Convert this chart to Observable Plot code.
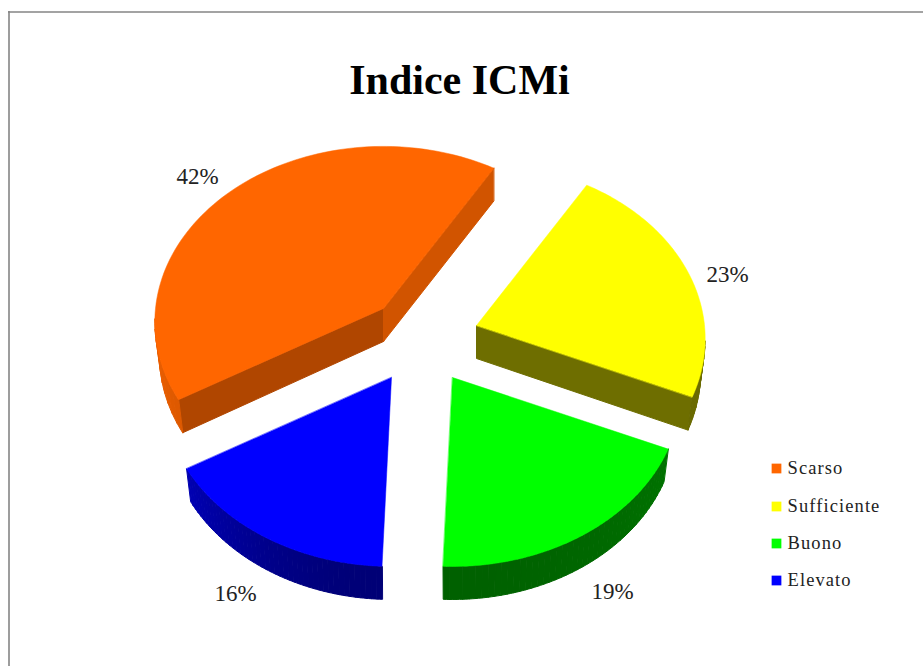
<!DOCTYPE html>
<html>
<head>
<meta charset="utf-8">
<script src="https://cdn.jsdelivr.net/npm/d3@7"></script>
<script src="https://cdn.jsdelivr.net/npm/@observablehq/plot@0.6"></script>
<style>html,body{margin:0;padding:0;background:#fff}svg{display:block}</style>
</head>
<body>
<div id="chart"></div>
<script>
// data
const categories = ["Scarso", "Sufficiente", "Buono", "Elevato"];
const percent = [42.0, 22.9, 19.1, 16.0];
const colors = ["#FF6600", "#FFFF00", "#00FF00", "#0000FF"];
const title = "Indice ICMi";

// layout of the exploded 3D pie (chart units)
const center = [424, 339];
const explode = [[-41, -31], [52, -14], [28, 38], [-33, 38]];
const labelAt = [[197, 176], [727, 274], [612, 591], [235, 593]];
const legendY = [468, 506, 543, 580];
const radiusX = 228, tiltY = 174.5, persp = 0.0765, depth = 33, bottomShrink = 0.98, firstAngle = 31;

// shading of the side walls, as fractions of each slice's colour
const arcFront = [0.70, 0.40, 0.38, 0.46];
const arcSide = [0.92, 0.42, 0.46, 0.78];
const radialShade = [[0.69, 0.82], [null, 0.43], [null, null], [null, null]]; // [start edge, end edge]

// yellow is drawn first from firstAngle clockwise; orange closes the circle
const order = [1, 2, 3, 0];
const spans = [];
{
  let a = firstAngle;
  for (const i of order) {
    const da = percent[i] / d3.sum(percent) * 360;
    spans[i] = [a, a + da];
    a += da;
  }
}
function rimPoint(deg, ox, oy) {
  const t = deg * Math.PI / 180;
  const front = -Math.cos(t);
  const s = 1 / (1 - persp * front);
  return [ox + Math.sin(t) * radiusX * s, oy + front * tiltY * s];
}
function shadeOf(rgb, f) {
  const c = d3.rgb(rgb);
  return d3.rgb(c.r * f, c.g * f, c.b * f).formatHex();
}
const tops = [], walls = [];
categories.forEach((name, i) => {
  const ox = center[0] + explode[i][0], oy = center[1] + explode[i][1];
  const [a0, a1] = spans[i];
  const steps = 90;
  const angles = d3.range(steps + 1).map(k => a0 + (a1 - a0) * k / steps);
  const rim = angles.map(a => rimPoint(a, ox, oy));
  [[ox, oy], ...rim].forEach(p => tops.push({id: name, x: p[0], y: p[1], c: colors[i]}));

  // the lower rim sits a little nearer the axis on the near half of the pie
  const low = p => [ox + (p[0] - ox) * (p[1] > oy ? bottomShrink : 1), p[1] + depth];
  const addWall = (id, pts, c) => {
    const strip = [...pts, ...pts.map(low).reverse()];
    strip.forEach(v => walls.push({id, x: v[0], y: v[1], c}));
  };
  // radial walls
  const [rs, re] = radialShade[i];
  if (rs != null) addWall(name + "-rs", [[ox, oy], rim[0]], shadeOf(colors[i], rs));
  if (re != null) addWall(name + "-re", [rim[steps], [ox, oy]], shadeOf(colors[i], re));
  // outer wall: bands of rim segments that face the viewer
  const band = 2;
  for (let k = 0; k < steps; k += band) {
    const seg = rim.slice(k, Math.min(k + band, steps) + 1);
    if (seg[0][0] <= seg[seg.length - 1][0]) continue;           // back side of the rim
    const mid = angles[k + 1] * Math.PI / 180;
    const w = Math.sin(mid) ** 2;
    const c = shadeOf(colors[i], arcFront[i] + (arcSide[i] - arcFront[i]) * w);
    addWall(name + "-a" + k, seg, c);
  }
});
const legend = categories.map((name, i) => ({name, c: colors[i], y: legendY[i]}));
const labels = categories.map((name, i) => ({t: Math.round(percent[i]) + "%", x: labelAt[i][0], y: labelAt[i][1]}));

const serif = "'Liberation Serif', serif";
const plot = Plot.plot({
  width: 923, height: 666, margin: 0,
  x: {domain: [0, 923], axis: null},
  y: {domain: [666, 0], axis: null},
  style: {background: "#fff"},
  marks: [
    Plot.ruleX([8.5], {y1: 11, y2: 666, stroke: "#858585", strokeWidth: 1.6}),
    Plot.ruleY([11.5], {x1: 8, x2: 923, stroke: "#858585", strokeWidth: 1.6}),
    Plot.line(walls, {x: "x", y: "y", z: "id", fill: "c", stroke: "c", strokeWidth: 1, curve: "linear-closed"}),
    Plot.line(tops, {x: "x", y: "y", z: "id", fill: "c", stroke: "c", strokeWidth: 0.5, curve: "linear-closed"}),
    Plot.text([title], {x: 459, y: 80, text: d => d, fontFamily: serif, fontWeight: "bold", fontSize: 42, fill: "#000"}),
    Plot.text(labels, {x: "x", y: "y", text: "t", fontFamily: serif, fontSize: 23, fill: "#222"}),
    Plot.dot(legend, {x: 776, y: "y", symbol: "square", r: 5.5, fill: "c"}),
    Plot.text(legend, {x: 787, y: "y", text: "name", textAnchor: "start", fontFamily: serif, fontSize: 18.5, fill: "#222"})
  ]
});
plot.querySelectorAll("text").forEach(t => {
  if (categories.includes(t.textContent)) t.style.letterSpacing = "1.1px";
});
document.getElementById("chart").append(plot);
</script>
</body>
</html>
